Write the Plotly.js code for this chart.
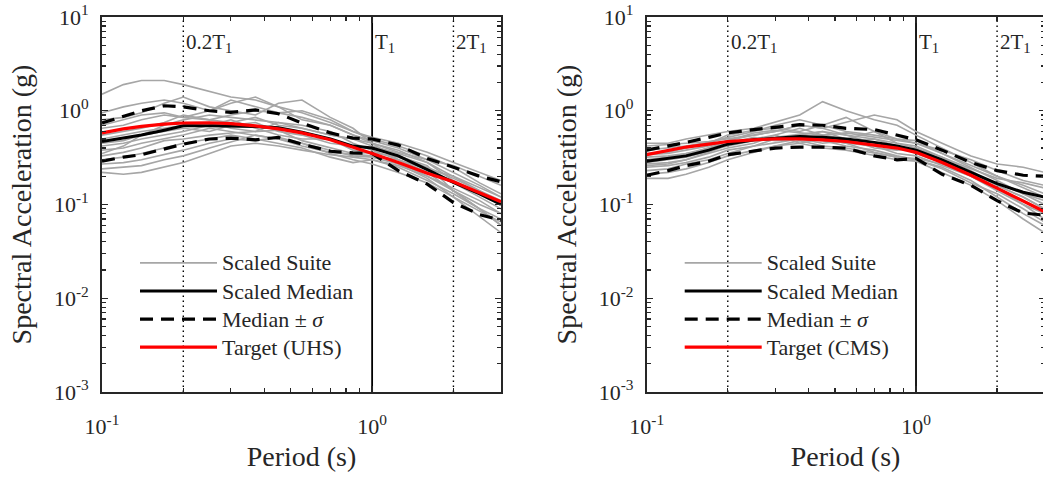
<!DOCTYPE html>
<html><head><meta charset="utf-8">
<script src="https://cdn.plot.ly/plotly-3.0.1.min.js"></script>
<style>html,body{margin:0;padding:0;overflow:hidden;background:#fff}#chart{width:1046px;height:477px}</style>
</head><body><div id="chart"></div>
<script>
const periods = [0.1,0.12,0.14,0.17,0.2,0.25,0.3,0.37,0.45,0.55,0.7,0.85,1.0,1.25,1.6,2.0,2.5,3.0];

const uhsSuite = [
  [1.5,1.9,2.1,2.1,1.9,1.6,1.4,1.3,1.1,0.95,0.75,0.6,0.5,0.42,0.33,0.25,0.17,0.13],
  [0.95,1.1,1.2,1.3,1.2,1.0,1.2,1.4,1.1,0.8,0.7,0.55,0.48,0.40,0.30,0.22,0.16,0.12],
  [0.80,0.85,0.95,1.2,1.4,1.1,1.0,0.9,1.2,1.3,0.85,0.65,0.45,0.38,0.28,0.20,0.14,0.10],
  [0.65,0.7,0.8,0.9,0.85,1.0,1.3,1.1,0.95,1.0,0.8,0.6,0.52,0.45,0.36,0.28,0.22,0.18],
  [0.55,0.6,0.65,0.75,0.9,0.8,0.75,0.85,0.7,0.65,0.55,0.5,0.45,0.36,0.3,0.26,0.2,0.16],
  [0.5,0.55,0.6,0.65,0.7,0.75,0.65,0.6,0.75,0.7,0.6,0.45,0.38,0.3,0.22,0.17,0.12,0.09],
  [0.45,0.48,0.55,0.6,0.65,0.6,0.7,0.75,0.6,0.55,0.45,0.42,0.4,0.33,0.26,0.14,0.1,0.08],
  [0.42,0.45,0.5,0.55,0.6,0.7,0.8,0.65,0.55,0.5,0.5,0.38,0.35,0.28,0.2,0.15,0.11,0.08],
  [0.38,0.4,0.45,0.5,0.55,0.65,0.6,0.55,0.5,0.45,0.38,0.33,0.32,0.27,0.19,0.12,0.085,0.065],
  [0.33,0.36,0.4,0.48,0.5,0.55,0.58,0.6,0.62,0.48,0.4,0.35,0.36,0.32,0.25,0.19,0.14,0.11],
  [0.3,0.32,0.35,0.4,0.45,0.5,0.55,0.5,0.45,0.4,0.32,0.28,0.3,0.26,0.2,0.14,0.09,0.06],
  [0.27,0.28,0.3,0.34,0.38,0.45,0.5,0.48,0.52,0.45,0.35,0.3,0.27,0.22,0.17,0.12,0.075,0.05],
  [0.24,0.25,0.26,0.3,0.33,0.4,0.46,0.55,0.5,0.42,0.36,0.34,0.33,0.3,0.24,0.2,0.15,0.12],
  [0.22,0.21,0.22,0.25,0.28,0.35,0.42,0.45,0.42,0.38,0.34,0.32,0.3,0.25,0.18,0.13,0.09,0.07],
  [0.35,0.42,0.55,0.7,0.8,0.9,0.85,0.8,0.75,0.65,0.55,0.5,0.42,0.35,0.28,0.18,0.13,0.1],
  [0.7,0.8,0.9,0.95,0.85,0.8,0.9,1.0,0.95,0.85,0.7,0.55,0.45,0.3,0.22,0.14,0.09,0.06]
];
const uhsMedian = [0.47,0.51,0.55,0.62,0.69,0.69,0.69,0.68,0.66,0.59,0.50,0.42,0.40,0.33,0.235,0.172,0.13,0.10];
const uhsUpper  = [0.74,0.88,1.0,1.13,1.1,1.0,0.96,1.02,0.93,0.74,0.58,0.51,0.50,0.43,0.31,0.25,0.2,0.175];
const uhsLower  = [0.29,0.32,0.34,0.39,0.44,0.50,0.51,0.49,0.52,0.44,0.37,0.355,0.35,0.23,0.165,0.105,0.078,0.068];
const uhsTarget = [0.58,0.64,0.68,0.72,0.74,0.745,0.73,0.69,0.64,0.58,0.49,0.41,0.35,0.28,0.215,0.175,0.135,0.107];

const cmsSuite = [
  [0.45,0.45,0.5,0.55,0.6,0.65,0.75,0.9,1.25,1.0,0.8,0.7,0.55,0.4,0.28,0.2,0.15,0.12],
  [0.42,0.44,0.45,0.47,0.5,0.55,0.6,0.7,0.65,0.75,0.9,0.8,0.6,0.45,0.33,0.27,0.25,0.22],
  [0.38,0.4,0.42,0.46,0.52,0.6,0.7,0.8,0.7,0.85,0.6,0.5,0.45,0.35,0.26,0.2,0.16,0.13],
  [0.35,0.36,0.4,0.45,0.55,0.62,0.65,0.6,0.7,0.6,0.55,0.5,0.48,0.35,0.25,0.18,0.13,0.1],
  [0.32,0.33,0.35,0.4,0.45,0.5,0.55,0.65,0.55,0.5,0.6,0.45,0.4,0.3,0.22,0.16,0.12,0.09],
  [0.3,0.32,0.35,0.38,0.42,0.48,0.5,0.55,0.6,0.5,0.4,0.38,0.4,0.32,0.24,0.19,0.17,0.15],
  [0.28,0.3,0.32,0.37,0.45,0.52,0.48,0.5,0.45,0.48,0.5,0.42,0.35,0.28,0.2,0.14,0.1,0.07],
  [0.27,0.28,0.3,0.35,0.4,0.45,0.55,0.45,0.5,0.45,0.42,0.35,0.33,0.26,0.2,0.15,0.1,0.08],
  [0.25,0.26,0.28,0.32,0.38,0.42,0.45,0.5,0.48,0.42,0.38,0.33,0.3,0.25,0.18,0.12,0.08,0.06],
  [0.23,0.24,0.27,0.3,0.35,0.42,0.5,0.55,0.5,0.45,0.36,0.32,0.31,0.27,0.21,0.17,0.13,0.11],
  [0.21,0.22,0.24,0.28,0.33,0.38,0.42,0.45,0.4,0.38,0.33,0.3,0.29,0.22,0.16,0.11,0.07,0.05],
  [0.19,0.19,0.21,0.25,0.3,0.36,0.42,0.48,0.42,0.4,0.35,0.32,0.3,0.24,0.17,0.13,0.09,0.065],
  [0.3,0.31,0.34,0.4,0.48,0.58,0.62,0.58,0.55,0.58,0.52,0.48,0.45,0.38,0.3,0.23,0.18,0.16],
  [0.26,0.27,0.3,0.36,0.43,0.5,0.52,0.56,0.6,0.55,0.45,0.4,0.38,0.3,0.22,0.15,0.11,0.085],
  [0.34,0.35,0.38,0.42,0.48,0.55,0.6,0.7,0.65,0.55,0.5,0.45,0.42,0.32,0.23,0.16,0.12,0.09]
];
const cmsMedian = [0.29,0.31,0.33,0.38,0.44,0.49,0.51,0.53,0.52,0.5,0.46,0.42,0.38,0.3,0.22,0.167,0.135,0.12];
const cmsUpper  = [0.38,0.42,0.46,0.52,0.58,0.63,0.67,0.71,0.70,0.65,0.63,0.55,0.49,0.38,0.28,0.23,0.205,0.2];
const cmsLower  = [0.205,0.23,0.26,0.29,0.34,0.37,0.40,0.41,0.41,0.40,0.33,0.30,0.31,0.21,0.16,0.11,0.081,0.077];
const cmsTarget = [0.34,0.38,0.41,0.44,0.47,0.49,0.50,0.50,0.49,0.47,0.43,0.40,0.36,0.28,0.205,0.15,0.11,0.084];

const legendNames = ['Scaled Suite','Scaled Median','Median \u00b1 <i>\u03c3</i>'];
const targetNames = ['Target (UHS)','Target (CMS)'];
const refPeriods = [0.2, 1, 2];
const refLabels = ['0.2T<sub>1</sub>','T<sub>1</sub>','2T<sub>1</sub>'];
const refDash = ['dot','solid','dot'];
const xTickVals = [0.1, 1];
const xTickText = ['10<sup>-1</sup>','10<sup>0</sup>'];
const yTickVals = [0.001, 0.01, 0.1, 1, 10];
const yTickText = ['10<sup>-3</sup>','10<sup>-2</sup>','10<sup>-1</sup>','10<sup>0</sup>','10<sup>1</sup>'];
const yRange = [0.001, 10];
const xRange = [0.1, 3];

const FONT = 'Liberation Serif, Times New Roman, serif';
const TXT = '#262626';
const W = 1046;

// minor tick positions (axis furniture)
const xMinor = [];
for (let d = -1; d <= 0; d++) for (let k = 2; k <= 9; k++) { const v = k * Math.pow(10, d); if (v <= 3.0001) xMinor.push(v); }
const yMinor = [];
for (let d = -3; d <= 0; d++) for (let k = 2; k <= 9; k++) yMinor.push(k * Math.pow(10, d));

const big = s => '<span style="font-size:22px">' + s + '</span>';

const traces = [];
function addPanel(suite, median, upper, lower, target, tName, xa, ya, lg) {
  refPeriods.forEach((p, i) => {
    traces.push({x:[p,p], y:yRange, xaxis:xa, yaxis:ya, mode:'lines', showlegend:false, hoverinfo:'skip',
      line:{color:'#000', width: refDash[i]==='solid'?1.8:1.4, dash: refDash[i]==='solid'?'solid':'1.5px,3.5px'}});
  });
  suite.forEach((s, i) => {
    traces.push({x:periods, y:s, xaxis:xa, yaxis:ya, mode:'lines', name:big(legendNames[0]), legend:lg,
      legendgroup:lg+'s', showlegend:i===0, line:{color:'#a6a6a6', width:1.6}});
  });
  traces.push({x:periods, y:median, xaxis:xa, yaxis:ya, mode:'lines', name:big(legendNames[1]), legend:lg,
    line:{color:'#000', width:3}});
  traces.push({x:periods, y:upper, xaxis:xa, yaxis:ya, mode:'lines', name:big(legendNames[2]), legend:lg,
    legendgroup:lg+'d', line:{color:'#000', width:3.2, dash:'13px,8px'}});
  traces.push({x:periods, y:lower, xaxis:xa, yaxis:ya, mode:'lines', name:big(legendNames[2]), legend:lg,
    legendgroup:lg+'d', showlegend:false, line:{color:'#000', width:3.2, dash:'13px,8px'}});
  traces.push({x:periods, y:target, xaxis:xa, yaxis:ya, mode:'lines', name:big(tName), legend:lg,
    line:{color:'#ff0000', width:3.2}});
}
addPanel(uhsSuite, uhsMedian, uhsUpper, uhsLower, uhsTarget, targetNames[0], 'x', 'y', 'legend');
addPanel(cmsSuite, cmsMedian, cmsUpper, cmsLower, cmsTarget, targetNames[1], 'x2', 'y2', 'legend2');

function xAxis(dom, anchor) {
  return {type:'log', domain:dom, anchor:anchor, range:xRange.map(Math.log10), tickmode:'array',
    tickvals:xTickVals, ticktext:xTickText, ticks:'inside', ticklen:6, tickwidth:1.4, tickcolor:TXT,
    showline:true, linecolor:TXT, linewidth:1.8, mirror:'allticks', showgrid:false, zeroline:false,
    tickfont:{family:FONT, size:22, color:TXT}, ticklabelstandoff:14,
    minor:{tickmode:'array', tickvals:xMinor, ticks:'inside', ticklen:4, tickwidth:1.2, tickcolor:TXT, showgrid:false},
    title:{text:'Period (s)', font:{family:FONT, size:28, color:TXT}, standoff:8}};
}
function yAxis(dom, anchor) {
  return {type:'log', domain:dom, anchor:anchor, range:yRange.map(Math.log10), tickmode:'array',
    tickvals:yTickVals, ticktext:yTickText, ticks:'inside', ticklen:6, tickwidth:1.4, tickcolor:TXT,
    showline:true, linecolor:TXT, linewidth:1.8, mirror:'allticks', showgrid:false, zeroline:false,
    tickfont:{family:FONT, size:22, color:TXT}, ticklabelstandoff:7,
    minor:{tickmode:'array', tickvals:yMinor, ticks:'inside', ticklen:4, tickwidth:1.2, tickcolor:TXT, showgrid:false},
    title:{text:'Spectral Acceleration (g)', font:{family:FONT, size:28, color:TXT}, standoff:14}};
}

const d1 = [102/W, 501/W];
const d2 = [646.7/W, 1044.5/W];

const annotations = [];
['x', 'x2'].forEach(xa => {
  refPeriods.forEach((p, i) => {
    annotations.push({xref:xa, yref:'paper', x:Math.log10(p), y:1, xanchor:'left', yanchor:'top',
      xshift: 1, yshift:-11, showarrow:false, text:refLabels[i], font:{family:FONT, size:21, color:TXT}});
  });
});

function legendAt(dom) {
  return {x:(dom[0]*W + 33)/W, xanchor:'left', y:0.395, yanchor:'top', bgcolor:'rgba(0,0,0,0)',
    font:{family:FONT, size:19.3, color:TXT}, itemwidth:77, tracegroupgap:0, traceorder:'normal'};
}

const layout = {
  width:W, height:477, paper_bgcolor:'#fff', plot_bgcolor:'#fff',
  margin:{l:0, r:0, t:17, b:85},
  showlegend:true,
  xaxis:xAxis(d1,'y'), yaxis:yAxis([0,1],'x'),
  xaxis2:xAxis(d2,'y2'), yaxis2:yAxis([0,1],'x2'),
  legend:legendAt(d1), legend2:legendAt(d2),
  annotations:annotations
};

Plotly.newPlot('chart', traces, layout, {displayModeBar:false, staticPlot:true});
</script></body></html>
